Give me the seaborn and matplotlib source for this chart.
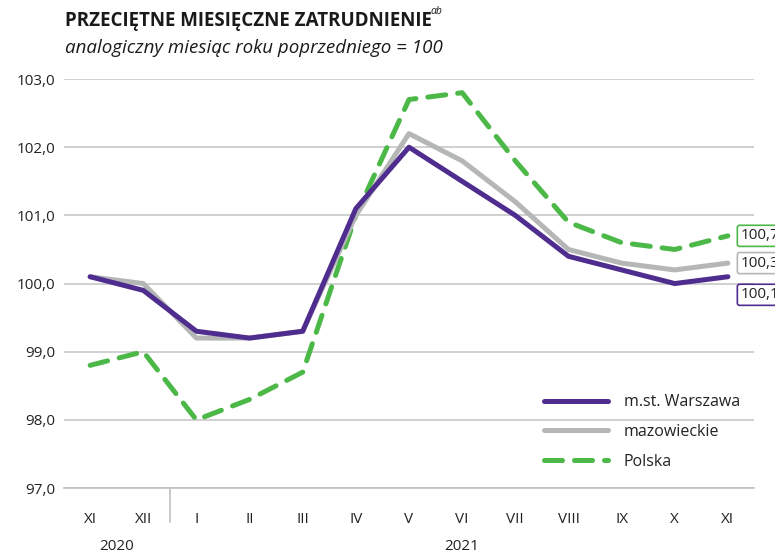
import pandas as pd
import matplotlib
matplotlib.use('Agg')
import matplotlib.pyplot as plt
import matplotlib.transforms as mtransforms
import seaborn as sns

# months (XI 2020 .. XI 2021)
months = ["XI", "XII", "I", "II", "III", "IV", "V", "VI", "VII", "VIII", "IX", "X", "XI"]
warszawa = [100.1, 99.9, 99.3, 99.2, 99.3, 101.1, 102.0, 101.5, 101.0, 100.4, 100.2, 100.0, 100.1]
mazowieckie = [100.1, 100.0, 99.2, 99.2, 99.3, 101.0, 102.2, 101.8, 101.2, 100.5, 100.3, 100.2, 100.3]
polska = [98.8, 99.0, 98.0, 98.3, 98.7, 101.0, 102.7, 102.8, 101.8, 100.9, 100.6, 100.5, 100.7]
yticks = [97, 98, 99, 100, 101, 102, 103]

purple = '#4f2d8f'
grey = '#b5b7b7'
green = '#4cb848'

df = pd.DataFrame({'idx': range(len(months)),
                   'm.st. Warszawa': warszawa,
                   'mazowieckie': mazowieckie,
                   'Polska': polska})

sns.set_style('white')
plt.rcParams['font.family'] = ['Open Sans', 'DejaVu Sans']

fig = plt.figure(figsize=(7.75, 5.53), dpi=100)
ax = fig.add_axes([0.082, 0.1175, 0.8915, 0.7395])

sns.lineplot(data=df, x='idx', y='Polska', ax=ax, color=green, lw=3.6,
             label='Polska', zorder=3)
sns.lineplot(data=df, x='idx', y='mazowieckie', ax=ax, color=grey, lw=3.6,
             label='mazowieckie', zorder=4)
sns.lineplot(data=df, x='idx', y='m.st. Warszawa', ax=ax, color=purple, lw=3.6,
             label='m.st. Warszawa', zorder=5)
pl = ax.lines[0]
pl.set_dashes([3.6, 2.4])
pl.set_dash_capstyle('round')

ax.set_xlim(-0.5, len(months) - 0.5)
ax.set_ylim(97, 103)
ax.set_yticks(yticks)
ax.set_yticklabels([f"{v:.1f}".replace('.', ',') for v in yticks], fontsize=11, color='#222222')
ax.yaxis.grid(True, color='#c8c8c8', lw=1.2)
ax.tick_params(axis='y', length=0, pad=6)

ax.set_xticks(range(len(months)))
ax.set_xticklabels(months, fontsize=11, color='#222222')
ax.set_xticks([i - 0.5 for i in range(len(months) + 1)], minor=True)
ax.tick_params(axis='x', which='major', length=0, pad=17)
ax.tick_params(axis='x', which='minor', length=5, width=1.2, color='#c0c0c0', direction='out')
ax.set_xlabel('')
ax.set_ylabel('')

for s in ['top', 'right', 'left']:
    ax.spines[s].set_visible(False)
ax.spines['bottom'].set_color('#c0c0c0')
ax.spines['bottom'].set_linewidth(1.2)

# longer separator between 2020 and 2021
trans = mtransforms.blended_transform_factory(ax.transData, ax.transAxes)
ax.plot([1.5, 1.5], [0, -0.083], transform=trans, color='#c0c0c0', lw=1.2, clip_on=False)
ax.text(0.5, -0.142, '2020', transform=trans, ha='center', va='center', fontsize=11, color='#222222')
ax.text(7.0, -0.142, '2021', transform=trans, ha='center', va='center', fontsize=11, color='#222222')

# end value boxes
ends = [(polska[-1], green, 0), (mazowieckie[-1], grey, 0), (warszawa[-1], purple, -13)]
for val, col, dy in ends:
    ax.annotate(f"{val:.1f}".replace('.', ','), xy=(len(months) - 1, val),
                xytext=(9, dy), textcoords='offset points', va='center', ha='left',
                fontsize=11, color='#222222', annotation_clip=False,
                bbox=dict(boxstyle='round,pad=0.2,rounding_size=0.15', fc='white', ec=col, lw=1.2))

h, l = ax.get_legend_handles_labels()
order = [2, 1, 0]
leg = ax.legend([h[i] for i in order], [l[i] for i in order], loc='lower right',
                bbox_to_anchor=(1.0, 0.01), frameon=False, fontsize=11.5,
                handlelength=4.0, handletextpad=1.0, labelspacing=0.85)
for t in leg.get_texts():
    t.set_color('#222222')

fig.text(0.084, 0.962, 'PRZECIĘTNE MIESIĘCZNE ZATRUDNIENIE', fontsize=13.5, fontweight='bold',
         color='#1a1a1a', va='center', ha='left')
fig.text(0.556, 0.980, 'ab', fontsize=7.5, style='italic', color='#1a1a1a', va='center', ha='left')
fig.text(0.084, 0.913, 'analogiczny miesiąc roku poprzedniego = 100', fontsize=13.5, style='italic',
         color='#1a1a1a', va='center', ha='left')

fig.savefig('out.png', dpi=100)
